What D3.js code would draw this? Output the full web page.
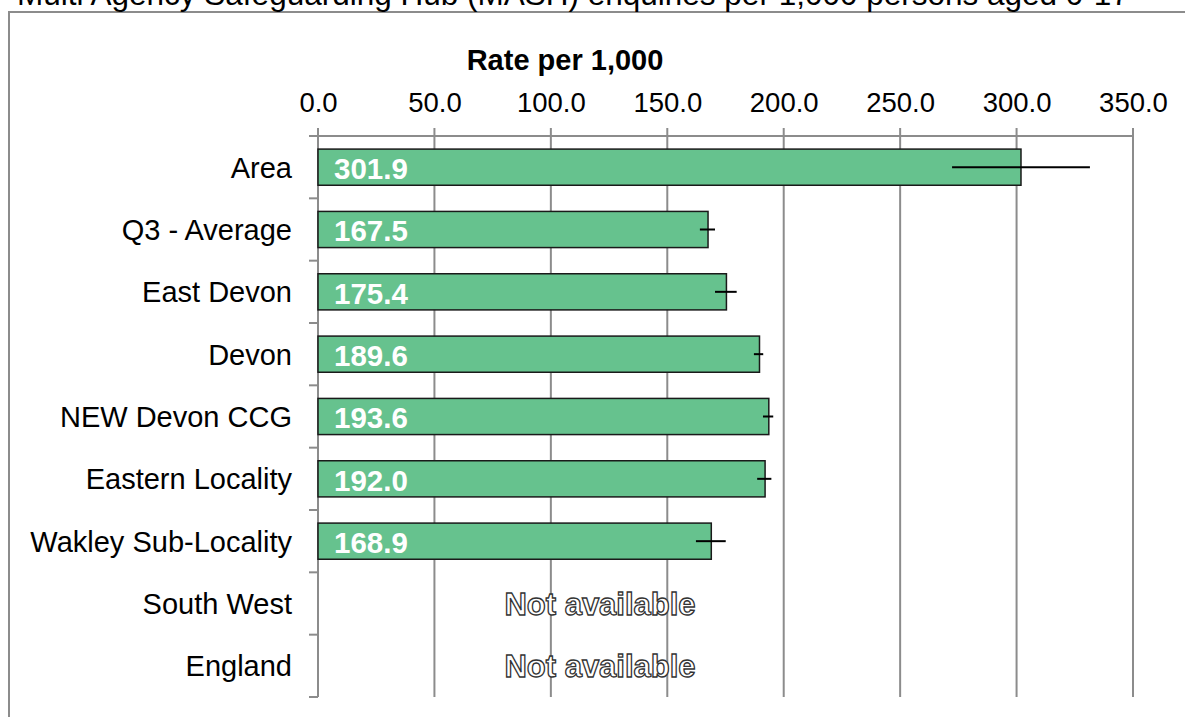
<!DOCTYPE html>
<html>
<head>
<meta charset="utf-8">
<script src="https://cdn.jsdelivr.net/npm/d3@7"></script>
<style>
  body { margin: 0; background: #fff; }
  svg { display: block; font-family: "Liberation Sans", Arial, sans-serif; }
</style>
</head>
<body>
<div id="chart"></div>
<script>
const categories = ['Area', 'Q3 - Average', 'East Devon', 'Devon', 'NEW Devon CCG',
  'Eastern Locality', 'Wakley Sub-Locality', 'South West', 'England'];
const rates = [301.9, 167.5, 175.4, 189.6, 193.6, 192.0, 168.9, null, null];
const lowerCI = [272.3, 164.0, 170.5, 187.2, 191.1, 188.6, 162.3, null, null];
const upperCI = [331.5, 170.5, 179.8, 191.2, 195.5, 194.7, 175.1, null, null];
const ticks = [0, 50, 100, 150, 200, 250, 300, 350];

const title = 'Multi Agency Safeguarding Hub (MASH) enquiries per 1,000 persons aged 0-17';
const axisTitle = 'Rate per 1,000';

const w = 1185;
const h = 717;
const plotL = 318, plotR = 1133, plotT = 136, plotB = 697;
const grey = '#8c8c8c';

const svg = d3.select('#chart')
  .append('svg')
  .attr('width', w)
  .attr('height', h);

// frame
svg.append('rect')
  .attr('x', 9).attr('y', 12)
  .attr('width', w + 20).attr('height', h + 20)
  .attr('fill', 'none')
  .attr('stroke', grey)
  .attr('stroke-width', 2);

svg.append('text')
  .attr('x', 17).attr('y', 5)
  .attr('font-size', 31.5)
  .attr('fill', '#000')
  .text(title);

const xScale = d3.scaleLinear()
  .domain([0, 350])
  .range([plotL, plotR]);

const yScale = d3.scaleBand()
  .domain(categories)
  .range([plotT, plotB])
  .paddingInner(0.42)
  .paddingOuter(0.21);

// gridlines
svg.append('g')
  .selectAll('line')
  .data(ticks)
  .enter()
  .append('line')
  .attr('x1', d => xScale(d)).attr('x2', d => xScale(d))
  .attr('y1', plotT - 8).attr('y2', plotB)
  .attr('stroke', grey)
  .attr('stroke-width', 2);

// top axis
const xAxis = d3.axisTop(xScale)
  .tickValues(ticks)
  .tickSize(0)
  .tickPadding(24)
  .tickFormat(d3.format('.1f'));

const gx = svg.append('g')
  .attr('transform', `translate(0,${plotT})`)
  .call(xAxis);
gx.select('.domain')
  .attr('d', `M${plotL - 8},0H${plotR}`)
  .attr('stroke', grey)
  .attr('stroke-width', 2);
gx.selectAll('text')
  .attr('font-size', 27.5)
  .attr('font-family', '"Liberation Sans", Arial, sans-serif')
  .attr('fill', '#000');

svg.append('text')
  .attr('x', 565).attr('y', 70)
  .attr('text-anchor', 'middle')
  .attr('font-size', 29)
  .attr('font-weight', 'bold')
  .text(axisTitle);

// left axis with boundary ticks
const step = (plotB - plotT) / categories.length;
const gy = svg.append('g');
gy.append('line')
  .attr('x1', plotL).attr('x2', plotL)
  .attr('y1', plotT).attr('y2', plotB)
  .attr('stroke', grey).attr('stroke-width', 2);
gy.selectAll('line.tk')
  .data(d3.range(categories.length + 1))
  .enter()
  .append('line')
  .attr('class', 'tk')
  .attr('x1', plotL - 9).attr('x2', plotL)
  .attr('y1', i => plotT + i * step).attr('y2', i => plotT + i * step)
  .attr('stroke', grey).attr('stroke-width', 2);

svg.append('g')
  .selectAll('text')
  .data(categories)
  .enter()
  .append('text')
  .attr('x', 292)
  .attr('y', d => yScale(d) + yScale.bandwidth() / 2)
  .attr('dy', '0.36em')
  .attr('text-anchor', 'end')
  .attr('font-size', 29)
  .text(d => d);

const rows = categories.map((c, i) => ({ c, v: rates[i], lo: lowerCI[i], hi: upperCI[i] }));

svg.append('g')
  .selectAll('rect')
  .data(rows.filter(d => d.v !== null))
  .enter()
  .append('rect')
  .attr('x', xScale(0))
  .attr('y', d => yScale(d.c))
  .attr('width', d => xScale(d.v) - xScale(0))
  .attr('height', yScale.bandwidth())
  .attr('fill', '#66c28e')
  .attr('stroke', '#1a1a1a')
  .attr('stroke-width', 1.5);

svg.append('g')
  .selectAll('line')
  .data(rows.filter(d => d.v !== null))
  .enter()
  .append('line')
  .attr('x1', d => xScale(d.lo)).attr('x2', d => xScale(d.hi))
  .attr('y1', d => yScale(d.c) + yScale.bandwidth() / 2)
  .attr('y2', d => yScale(d.c) + yScale.bandwidth() / 2)
  .attr('stroke', '#000')
  .attr('stroke-width', 2);

svg.append('g')
  .selectAll('text')
  .data(rows.filter(d => d.v !== null))
  .enter()
  .append('text')
  .attr('x', xScale(0) + 16)
  .attr('y', d => yScale(d.c) + yScale.bandwidth() / 2)
  .attr('dy', '0.4em')
  .attr('font-size', 29.5)
  .attr('font-weight', 'bold')
  .attr('fill', '#fff')
  .text(d => d.v.toFixed(1));

svg.append('g')
  .selectAll('text')
  .data(rows.filter(d => d.v === null))
  .enter()
  .append('text')
  .attr('x', 600)
  .attr('y', d => yScale(d.c) + yScale.bandwidth() / 2)
  .attr('dy', '0.36em')
  .attr('text-anchor', 'middle')
  .attr('font-size', 31)
  .attr('font-weight', 'bold')
  .attr('fill', '#fff')
  .attr('stroke', '#333')
  .attr('stroke-width', 1.3)
  .text('Not available');
</script>
</body>
</html>
